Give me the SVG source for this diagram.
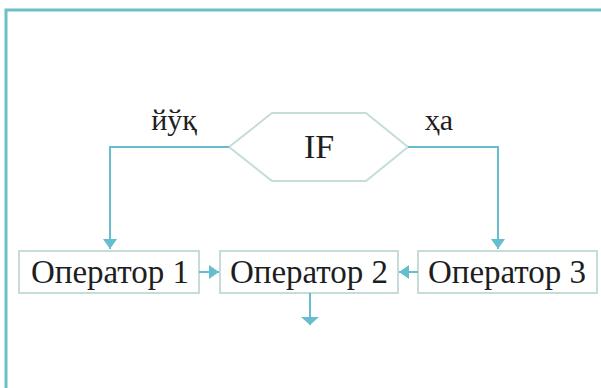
<svg xmlns="http://www.w3.org/2000/svg" width="601" height="388" viewBox="0 0 601 388">
<style>
.node{fill:#fff;stroke:#c6dcd8;stroke-width:2}
.lbl{font-family:"Liberation Serif","Times New Roman",serif;fill:#1e1e1e;text-anchor:middle}
.conn{fill:none;stroke:#67bdd0;stroke-width:2}
.frame{fill:none;stroke:#6dbfcc;stroke-width:3}
</style>
<defs>
<marker id="ah" markerUnits="userSpaceOnUse" markerWidth="12" markerHeight="14" refX="10" refY="7" orient="auto">
<path d="M0,0 L10,7 L0,14 Z" fill="#67bdd0"/>
</marker>
<marker id="ahw" markerUnits="userSpaceOnUse" markerWidth="10" markerHeight="18" refX="8" refY="9" orient="auto">
<path d="M0,0 L8,9 L0,18 Z" fill="#67bdd0"/>
</marker>
</defs>
<rect width="601" height="388" fill="#fff"/>
<path class="frame" d="M6,388 V10 H601"/>
<g id="if">
<polygon class="node" points="229,147 272,113 366,113 408,147 366,181 272,181"/>
<text class="lbl" x="319" y="158" font-size="34">IF</text>
</g>
<g id="op1">
<rect class="node" x="19" y="251" width="180" height="42"/>
<text class="lbl" x="110" y="283" font-size="33">Оператор 1</text>
</g>
<g id="op2">
<rect class="node" x="220" y="251" width="178" height="42"/>
<text class="lbl" x="309" y="283" font-size="33">Оператор 2</text>
</g>
<g id="op3">
<rect class="node" x="418" y="251" width="179" height="42"/>
<text class="lbl" x="507" y="283" font-size="33">Оператор 3</text>
</g>
<g id="connectors">
<path class="conn" d="M229,147 H110 V249" marker-end="url(#ah)"/>
<path class="conn" d="M408,147 H498 V249" marker-end="url(#ah)"/>
<path class="conn" d="M199,272 H219" marker-end="url(#ah)"/>
<path class="conn" d="M418,272 H399" marker-end="url(#ah)"/>
<path class="conn" d="M310,293 V325" marker-end="url(#ahw)"/>
<text class="lbl" x="174" y="130" font-size="30">йўқ</text>
<text class="lbl" x="439" y="130" font-size="30">ҳа</text>
</g>
</svg>
